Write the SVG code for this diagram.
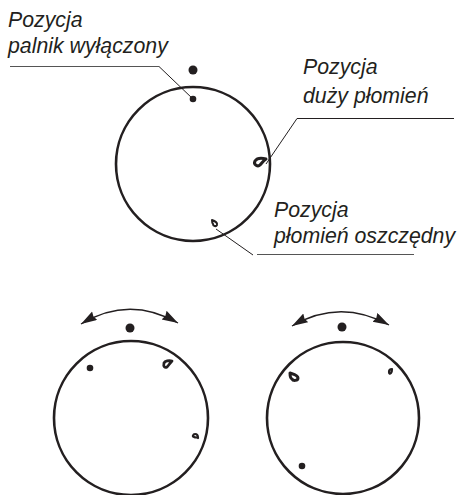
<svg xmlns="http://www.w3.org/2000/svg" width="459" height="495" viewBox="0 0 459 495">
<style>
.t{font-family:"Liberation Sans",Arial,sans-serif;font-style:italic;font-size:21.300px;fill:#231f20}
.c{fill:none;stroke:#231f20;stroke-width:2.600}
.l{fill:none;stroke:#231f20;stroke-width:1}
.g{fill:none;stroke:#555;stroke-width:1.200}
.d{fill:#231f20}
.f{fill:#fff;stroke:#231f20;stroke-linejoin:round}
.a{fill:none;stroke:#231f20;stroke-width:1.300}
</style>
<defs>
<marker id="ah" markerUnits="userSpaceOnUse" markerWidth="18" markerHeight="12" refX="16" refY="5" orient="auto-start-reverse"><path d="M0,0 L16,5 L0,10 L1.500,5 Z" fill="#231f20"/></marker>
</defs>
<g id="connectors">
<path class="g" d="M10,66.500H159"/>
<path class="l" d="M159,66.500L193,99"/>
<path class="l" d="M297,118.500H454"/>
<path class="l" d="M297,118.500L266,164"/>
<path class="g" d="M257,254.500H414"/>
<path class="l" d="M253,255L216,229"/>
<path class="a" marker-start="url(#ah)" marker-end="url(#ah)" d="M81,324Q129,295 178,323"/>
<path class="a" marker-start="url(#ah)" marker-end="url(#ah)" d="M292,326Q340,298 389,325"/>
</g>
<g id="dial-top">
<circle class="c" cx="193" cy="164" r="77"/>
<circle class="d" cx="193" cy="70" r="4.500"/>
<circle class="d" cx="193" cy="99" r="3.300"/>
<path class="f" stroke-width="3" d="M266,159C262,158 257,158 255,161C253,165 258,167 260,165C262,163 263,161 266,159Z"/>
<path class="f" stroke-width="2" d="M212,220C215,221 218,223 217,225C216,227 213,226 213,224C212,223 212,222 212,220Z"/>
</g>
<g id="dial-left">
<circle class="c" cx="131" cy="418" r="77"/>
<circle class="d" cx="130" cy="328" r="4.500"/>
<circle class="d" cx="90" cy="368" r="3.300"/>
<path class="f" stroke-width="2.800" d="M172,361C169,360 165,361 164,363C163,367 165,368 167,367C169,365 170,363 172,361Z"/>
<path class="f" stroke-width="2.200" d="M198,438C198,435 197,434 195,434C193,434 192,437 194,437C196,438 197,437 198,438Z"/>
</g>
<g id="dial-right">
<circle class="c" cx="343" cy="418" r="76"/>
<circle class="d" cx="342" cy="327" r="4.500"/>
<circle class="d" cx="302" cy="466" r="3.300"/>
<path class="f" stroke-width="3" d="M290,373C293,374 298,375 298,378C298,381 293,381 292,379C290,378 290,375 290,373Z"/>
<path class="f" stroke-width="2.200" d="M392,369C390,369 389,370 389,372C389,374 390,374 391,373C392,372 392,370 392,369Z"/>
</g>
<g id="labels">
<text class="t" x="8" y="27">Pozycja</text>
<text class="t" x="8" y="53">palnik wyłączony</text>
<text class="t" x="303" y="74">Pozycja</text>
<text class="t" x="303" y="103">duży płomień</text>
<text class="t" x="274" y="217">Pozycja</text>
<text class="t" x="274" y="243">płomień oszczędny</text>
</g>
</svg>
